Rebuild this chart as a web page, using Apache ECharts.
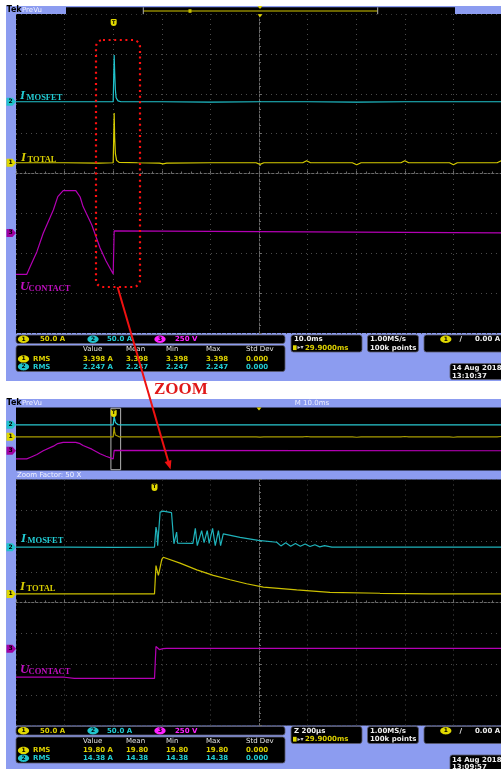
<!DOCTYPE html>
<html>
<head>
<meta charset="utf-8">
<title>Scope capture</title>
<script src="https://cdn.jsdelivr.net/npm/echarts/dist/echarts.min.js"></script>
<style>
html,body{margin:0;padding:0;background:#ffffff;overflow:hidden;}
#chart{width:501px;height:769px;}
</style>
</head>
<body>
<div id="chart"></div>
<script>
// ================= DATA =================
// Acquisition view: time in ms (10.0 ms/div, screen centre = 0), value in divisions from centre
const topMosfet = [[-50,1.80],[-40,1.80],[-30.0,1.80],[-29.85,1.80],[-29.8,2.97],[-29.7,2.55],[-29.55,2.10],[-29.4,1.90],[-29.0,1.82],[-28.4,1.80],[-20,1.80],[-10,1.79],[0,1.80],[10,1.80],[20,1.79],[30,1.80],[40,1.80],[50,1.80]];
const topTotal = [[-50,0.27],[-40,0.27],[-33,0.26],[-30,0.27],[-29.85,0.27],[-29.8,1.52],[-29.7,0.90],[-29.55,0.50],[-29.3,0.33],[-28.8,0.28],[-25,0.27],[-20.5,0.26],[-19.75,0.24],[-19,0.26],[-10,0.27],[-0.6,0.27],[0.2,0.23],[1,0.27],[9,0.27],[9.8,0.32],[10.6,0.27],[19.2,0.27],[20.1,0.22],[21,0.27],[29.2,0.27],[30,0.32],[30.8,0.27],[39.2,0.27],[40,0.22],[40.8,0.27],[49,0.27],[50,0.33]];
const topContact = [[-50,-2.53],[-47.8,-2.53],[-47.1,-2.34],[-45.7,-1.96],[-44.4,-1.50],[-42.3,-0.91],[-41.4,-0.58],[-40.3,-0.43],[-37.7,-0.43],[-36.8,-0.59],[-36.2,-0.83],[-34.4,-1.29],[-32.7,-1.87],[-31.5,-2.19],[-30.0,-2.52],[-29.85,-2.52],[-29.8,-1.44],[-29.6,-1.49],[50,-1.49]];
// Zoom view: time in µs (200 µs/div, zoom centre = 0), value in divisions
const zoomMosfet = [[-1000,1.80],[-800,1.80],[-600,1.79],[-430,1.80],[-426,1.80],[-424,2.45],[-420,2.30],[-417,1.85],[-409,1.88],[-407,2.94],[-394,2.97],[-360,2.92],[-355,2.90],[-350,1.91],[-343,1.92],[-339,2.29],[-335,1.93],[-333,1.92],[-272,1.92],[-262,2.41],[-254,1.85],[-236,2.34],[-226,1.95],[-213,2.34],[-205,1.92],[-191,2.41],[-180,1.85],[-167,2.34],[-158,1.85],[-147,2.23],[-78,2.12],[-3,2.02],[73,1.96],[90,1.84],[110,1.94],[130,1.83],[150,1.92],[170,1.83],[190,1.90],[210,1.82],[230,1.88],[250,1.81],[270,1.85],[300,1.80],[500,1.80],[1000,1.80]];
const zoomTotal = [[-1000,0.28],[-700,0.28],[-430,0.28],[-427,0.28],[-424,1.20],[-420,1.18],[-414,0.88],[-408,1.10],[-400,1.40],[-394,1.47],[-325,1.28],[-256,1.06],[-188,0.88],[-119,0.74],[-51,0.61],[18,0.50],[155,0.41],[292,0.33],[498,0.30],[704,0.28],[1000,0.28]];
const zoomContact = [[-1000,-2.43],[-800,-2.43],[-760,-2.47],[-430,-2.47],[-427,-2.47],[-424,-1.43],[-420,-1.45],[-410,-1.53],[-395,-1.50],[-380,-1.49],[1000,-1.49]];

const channelIds = ['1','2','3'];
const topOffsets = [0.27, 1.80, -1.49];   // ground markers, divisions
const zoomOffsets = [0.28, 1.80, -1.50];
const scaleLabels = ['50.0 A','50.0 A','250 V'];
const measHeaders = ['Value','Mean','Min','Max','Std Dev'];
const measTop = [['3.398 A','3.398','3.398','3.398','0.000'],['2.247 A','2.247','2.247','2.247','0.000']];
const measZoom = [['19.80 A','19.80','19.80','19.80','0.000'],['14.38 A','14.38','14.38','14.38','0.000']];
const triggerMs = -29.9;
const zoomCenterMs = -29.47;
const zoomWindowMs = [-30.47, -28.47];

// ================= STYLE =================
const FRAME = '#8c9cf0';
const SANS = '"DejaVu Sans", sans-serif';
const SERIF = '"Liberation Serif", "DejaVu Serif", serif';
const TR_CYAN = '#20c2cc', TR_YEL = '#d6cc00', TR_MAG = '#b400b4';
const TX_YEL = '#dcd000', TX_CYAN = '#22ccd4', TX_MAG = '#ff22ff';
const chanTrace = [TR_YEL, TR_CYAN, TR_MAG];
const chanText = [TX_YEL, TX_CYAN, TX_MAG];
const chanTag = ['#e0d800', '#20c4cc', '#a000a0'];

const chart = echarts.init(document.getElementById('chart'), null, {renderer:'canvas', width:501, height:769});

function xAxisCfg(grid, min, max, interval, showGrid) {
  return {
    type:'value', gridIndex:grid, min, max, interval,
    axisLabel:{show:false},
    axisLine:{show:showGrid, onZero:true, lineStyle:{color:'#6a6a6a', type:[2,2], width:1}},
    axisTick:{show:showGrid, inside:true, length:3, lineStyle:{color:'#6a6a6a'}},
    minorTick:{show:showGrid, splitNumber:5, length:2, lineStyle:{color:'#6a6a6a'}},
    splitLine:{show:showGrid, lineStyle:{color:'#4a4a4a', type:[1,4], width:1}}
  };
}
function yAxisCfg(grid, showGrid) {
  return {
    type:'value', gridIndex:grid, min:-4, max:4, interval:1,
    axisLabel:{show:false},
    axisLine:{show:showGrid, onZero:true, lineStyle:{color:'#6a6a6a', type:[2,2], width:1}},
    axisTick:{show:showGrid, inside:true, length:3, lineStyle:{color:'#6a6a6a'}},
    minorTick:{show:showGrid, splitNumber:5, length:2, lineStyle:{color:'#6a6a6a'}},
    splitLine:{show:showGrid, lineStyle:{color:'#4a4a4a', type:[1,4], width:1}}
  };
}
function trace(idx, data, color, w) {
  return {type:'line', xAxisIndex:idx, yAxisIndex:idx, data, showSymbol:false, symbol:'none',
    lineStyle:{color, width:w}, itemStyle:{color}, animation:false, clip:true, z:5, silent:true};
}

const gridBase = {show:true, backgroundColor:'#000', borderWidth:0, containLabel:false, outerBoundsMode:'none'};
const overviewMosfet = trace(1, topMosfet, '#28c8d0', 1.2);
overviewMosfet.markArea = {silent:true, itemStyle:{color:'rgba(0,0,0,0)', borderColor:'#b4b4b4', borderWidth:1},
  data:[[{xAxis:zoomWindowMs[0], yAxis:-3.9},{xAxis:zoomWindowMs[1], yAxis:3.9}]]};

chart.setOption({
  backgroundColor:'#ffffff',
  animation:false,
  grid:[
    Object.assign({left:16, top:14, width:486, height:319}, gridBase),
    Object.assign({left:16, top:407.5, width:486, height:63}, gridBase),
    Object.assign({left:16, top:479.5, width:486, height:246}, gridBase)
  ],
  xAxis:[xAxisCfg(0,-50,50,10,true), xAxisCfg(1,-50,50,10,false), xAxisCfg(2,-1000,1000,200,true)],
  yAxis:[yAxisCfg(0,true), yAxisCfg(1,false), yAxisCfg(2,true)],
  series:[
    trace(0, topContact, TR_MAG, 1.2),
    trace(0, topTotal, TR_YEL, 1.2),
    trace(0, topMosfet, TR_CYAN, 1.2),
    trace(1, topContact, TR_MAG, 1.2),
    trace(1, topTotal, '#a89c00', 1.2),
    overviewMosfet,
    trace(2, zoomContact, TR_MAG, 1.2),
    trace(2, zoomTotal, '#ccc000', 1.2),
    trace(2, zoomMosfet, '#1fb2ba', 1.2)
  ]
});

// ================= ANNOTATIONS / READOUTS =================
const G = [];
function R(x,y,w,h,fill,o){ o=o||{}; G.push({type:'rect', z:o.z!==undefined?o.z:40, silent:true, shape:{x,y,width:w,height:h,r:o.r||0}, style:{fill, stroke:o.stroke||null, lineWidth:o.lw||0, lineDash:o.dash||null}}); }
function T(x,y,s,fill,font,align){ G.push({type:'text', z:60, silent:true, x, y, style:{text:s, fill, font, textAlign:align||'left', textVerticalAlign:'middle', align:align||'left', verticalAlign:'middle'}}); }
function P(pts,fill,z){ G.push({type:'polygon', z:z||45, silent:true, shape:{points:pts}, style:{fill}}); }
function L(x1,y1,x2,y2,stroke,w,z){ G.push({type:'line', z:z||45, silent:true, shape:{x1,y1,x2,y2}, style:{stroke, lineWidth:w}}); }
function E(cx,cy,rx,ry,fill){ G.push({type:'ellipse', z:55, silent:true, shape:{cx,cy,rx,ry}, style:{fill}}); }

// frames
R(6,6,500,375,FRAME,{z:-10});
R(6,399,500,372,FRAME,{z:-10});

// top bar (acquisition)
T(6.5,10.3,'Tek','#000',`bold 8px ${SANS}`);
T(22,10.3,'PreVu','#eef0ff',`7px ${SANS}`);
R(66,7.3,389,6.9,'#000');
L(143.3,11,377.7,11,'#8e8600',1.4,46);
L(143.3,7.3,143.3,14.2,'#b0b0b0',1,47);
L(377.7,7.3,377.7,14.2,'#b0b0b0',1,47);
R(188.5,9.2,3,3.6,'#c8c000',{z:47});
// bottom bar (zoom screen)
T(6.5,403.3,'Tek','#000',`bold 8px ${SANS}`);
T(22,403.3,'PreVu','#eef0ff',`7px ${SANS}`);
T(312,403.3,'M 10.0ms','#eef0ff',`7px ${SANS}`,'center');
T(17,475.2,'Zoom Factor: 50 X','#f0f2ff',`7px ${SANS}`);

function tri(x,y){ P([[x-2.5,y],[x+2.5,y],[x,y+3]],'#e0d400',48); }
function trigMark(x,y){ R(x-3,y-3.6,6,7.2,'#e0d800',{r:[1,1,3,3],z:56}); T(x,y-0.2,'T','#000',`bold 5px ${SANS}`,'center'); }
function tag(y,i){ P([[6.5,y-4],[12.5,y-4],[16,y],[12.5,y+4],[6.5,y+4]],chanTag[i],55); T(10.5,y,channelIds[i],'#000',`bold 6px ${SANS}`,'center'); }
function badge(cx,cy,i){ E(cx,cy,5.6,3.7,chanTag[i]==='#a000a0'?'#ff20ff':chanTag[i]); T(cx,cy,channelIds[i],'#000',`bold 6px ${SANS}`,'center'); }
function box(x,y,w,h){ R(x,y,w,h,'#000',{r:2.5,stroke:'#5a5a70',lw:0.8,z:41}); }
function label(x,y,main,sub,color){
  T(x,y,main,color,`italic bold 13px ${SERIF}`);
  T(x+(main==='U'?8.5:6.5),y+2,sub,color,`bold 8.5px ${SERIF}`);
}

function px(grid,pt){ return chart.convertToPixel({gridIndex:grid}, pt); }

// centre expansion markers
tri(260,6); tri(260,14.3); tri(px(1,[0,0])[0],407.6);

// ground markers
for (let i=0;i<3;i++){
  tag(px(0,[-50,topOffsets[i]])[1], i);
  tag(px(1,[-50,topOffsets[i]])[1], i);
  tag(px(2,[-1000,zoomOffsets[i]])[1], i);
}
// trigger markers
trigMark(px(0,[triggerMs,0])[0], 22.5);
trigMark(px(1,[triggerMs,0])[0], 413.3);
trigMark(px(2,[(triggerMs-zoomCenterMs)*1000,0])[0], 487.3);

// trace labels
label(20,95.5,'I','MOSFET',TX_CYAN);
label(21,157.8,'I','TOTAL',TR_YEL);
label(20,286.7,'U','CONTACT','#c010c0');
label(21,539,'I','MOSFET',TX_CYAN);
label(20,586.5,'I','TOTAL',TR_YEL);
label(20,670,'U','CONTACT','#c010c0');

// status readouts
function statusBlock(dy, meas, tbText, timeText){
  const F = `bold 7px ${SANS}`;
  box(16,335+dy,269,8.5);
  const bx=[23.5,93,160], tx=[40,107,175];
  for (let i=0;i<3;i++){ badge(bx[i],339.2+dy,i); T(tx[i],339.4+dy,scaleLabels[i],chanText[i],F); }
  box(16,345.5+dy,269,26);
  const cx=[83,126,166,206,246];
  measHeaders.forEach((h,k)=>T(cx[k],349.6+dy,h,'#e4e4e4',`7px ${SANS}`));
  const ry=[358.9,366.7];
  meas.forEach((row,r)=>{
    const ci = r===0?0:1;
    badge(23.5,ry[r]+dy,ci);
    T(33,ry[r]+dy,'RMS',chanText[ci],F);
    row.forEach((v,k)=>T(cx[k],ry[r]+dy,v,chanText[ci],F));
  });
  box(291,335+dy,71,17);
  T(294,339.6+dy,tbText,'#eeeeee',F);
  R(293,345.3+dy,3.6,4.8,'#e0d800',{z:56});
  T(297.5,347.8+dy,'▸▾','#cccccc',`6px ${SANS}`);
  T(305,347.8+dy,'29.9000ms',TX_YEL,F);
  box(367.5,335+dy,51,17);
  T(370,339.6+dy,'1.00MS/s','#eeeeee',F);
  T(370,347.8+dy,'100k points','#eeeeee',F);
  box(424,335+dy,90,17);
  badge(445.8,339.2+dy,0);
  T(459.5,339.6+dy,'/','#eeeeee',F);
  T(475,339.6+dy,'0.00 A','#eeeeee',F);
  box(450,363.5+dy,60,16);
  T(452,368.2+dy,'14 Aug 2018','#eeeeee',F);
  T(452,375.8+dy,timeText,'#eeeeee',F);
}
statusBlock(0, measTop, '10.0ms', '13:10:37');
statusBlock(391.5, measZoom, 'Z 200µs', '13:09:57');

// red zoom annotation
G.push({type:'rect', z:90, silent:true, shape:{x:96,y:40,width:44,height:247,r:7}, style:{fill:null, stroke:'#ff1010', lineWidth:2.2, lineDash:[2,3.6]}});
L(117.6,287,168.6,462.5,'#ee1111',2,90);
P([[170.6,469.5],[164.6,461.9],[171.4,459.9]],'#ee1111',91);
T(154,389.5,'ZOOM','#e01818',`bold 17px ${SERIF}`);

chart.setOption({graphic:{elements:G}});
</script>
</body>
</html>
